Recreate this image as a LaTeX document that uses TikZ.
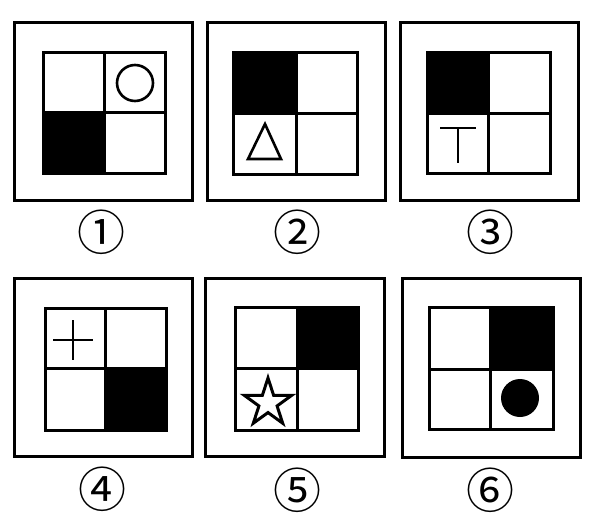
\documentclass[tikz,border=0pt]{standalone}
\usepackage{fontspec}
\newfontfamily\circfont{Noto Sans CJK SC}
\usetikzlibrary{shapes.geometric}
\tikzset{
  frame/.style={line width=3pt},
  gridl/.style={line width=3pt},
  blk/.style={fill=black},
  sym/.style={line width=2.6pt},
  lbl/.style={font=\circfont\fontsize{48}{48}\selectfont, inner sep=0pt}
}
\begin{document}
\begin{tikzpicture}[x=1pt,y=-1pt]
\useasboundingbox (0,0) rectangle (601,522);
% Panel 1
\fill[blk] (43,112) rectangle (104,173);
\draw[frame] (14,22) rectangle (192,200);
\draw[gridl] (43,52) rectangle (165,173) (104,52) -- (104,173) (43,112) -- (165,112);
\draw[sym] (135,83) circle (18);
\node[lbl] (l1) at (101,232) {①};
% Panel 2
\fill[blk] (233,52) rectangle (296,113);
\draw[frame] (207,22) rectangle (385,200);
\draw[gridl] (233,52) rectangle (357,174) (296,52) -- (296,174) (233,113) -- (357,113);
\draw[sym, line join=miter] (265,124) -- (248,159) -- (281,159) -- cycle;
\node[lbl] (l2) at (297,232) {②};
% Panel 3
\fill[blk] (427,52) rectangle (488,113);
\draw[frame] (400,22) rectangle (578,200);
\draw[gridl] (427,52) rectangle (550,173) (488,52) -- (488,173) (427,113) -- (550,113);
\draw[sym] (440,128) -- (476,128) (458,128) -- (458,163);
\node[lbl] (l3) at (490,232) {③};
% Panel 4
\fill[blk] (105,368) rectangle (166,430);
\draw[frame] (14,278) rectangle (192,456);
\draw[gridl] (45,308) rectangle (166,430) (105,308) -- (105,430) (45,368) -- (166,368);
\draw[sym] (53,340) -- (93,340) (73,320) -- (73,360);
\node[lbl] (l4) at (102,489) {④};
% Panel 5
\fill[blk] (297,307) rectangle (358,368);
\draw[frame] (205,278) rectangle (384,456);
\draw[gridl] (235,307) rectangle (358,430) (297,307) -- (297,430) (235,368) -- (358,368);
\node[star, star points=5, star point ratio=2.618, minimum size=50pt, inner sep=0pt, draw, line width=3pt] (s5) at (268,403) {};
\node[lbl] (l5) at (297,490) {⑤};
% Panel 6
\fill[blk] (490,307) rectangle (553,369);
\draw[frame] (402,278) rectangle (580,457);
\draw[gridl] (429,307) rectangle (553,429) (490,307) -- (490,429) (429,369) -- (553,369);
\fill (520,398) circle (19);
\node[lbl] (l6) at (490,490) {⑥};
\end{tikzpicture}
\end{document}
